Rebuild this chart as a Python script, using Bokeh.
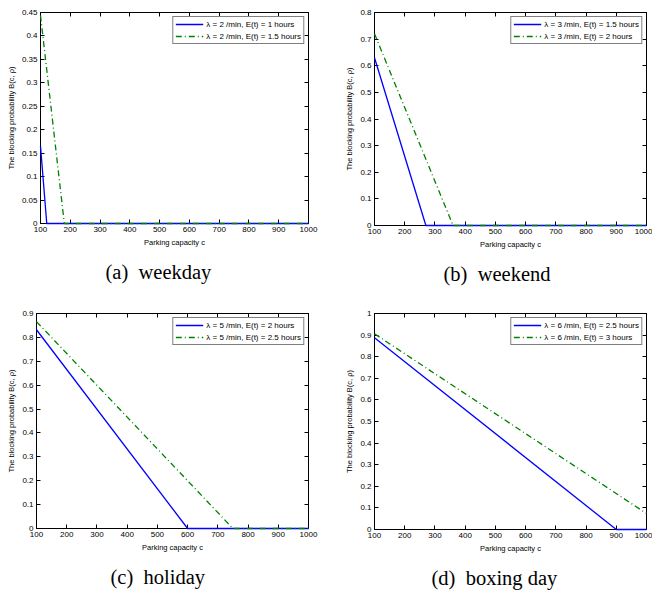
from bokeh.plotting import figure
from bokeh.models import LinearAxis, FixedTicker, Range1d, Title, Legend, LegendItem
from bokeh.layouts import column, row
from bokeh.embed import file_html
from bokeh.resources import INLINE

# ---------------- data ----------------
x_ticks = [100, 200, 300, 400, 500, 600, 700, 800, 900, 1000]

# (a) weekday
a_blue_x = [100, 121, 1000]
a_blue_y = [0.165, 0.0, 0.0]
a_green_x = [100, 180, 1000]
a_green_y = [0.444, 0.0, 0.0]
a_labels = ["λ = 2 /min, E(t) = 1 hours", "λ = 2 /min, E(t) = 1.5 hours"]
a_yticks = [0, 0.05, 0.1, 0.15, 0.2, 0.25, 0.3, 0.35, 0.4, 0.45]
a_ytick_labels = ["0", "0.05", "0.1", "0.15", "0.2", "0.25", "0.3", "0.35", "0.4", "0.45"]

# (b) weekend
b_blue_x = [100, 270, 1000]
b_blue_y = [0.63, 0.0, 0.0]
b_green_x = [100, 360, 1000]
b_green_y = [0.72, 0.0, 0.0]
b_labels = ["λ = 3 /min, E(t) = 1.5 hours", "λ = 3 /min, E(t) = 2 hours"]
b_yticks = [0, 0.1, 0.2, 0.3, 0.4, 0.5, 0.6, 0.7, 0.8]
b_ytick_labels = ["0", "0.1", "0.2", "0.3", "0.4", "0.5", "0.6", "0.7", "0.8"]

# (c) holiday
c_blue_x = [100, 600, 1000]
c_blue_y = [0.832, 0.0, 0.0]
c_green_x = [100, 750, 1000]
c_green_y = [0.866, 0.0, 0.0]
c_labels = ["λ = 5 /min, E(t) = 2 hours", "λ = 5 /min, E(t) = 2.5 hours"]
c_yticks = [0, 0.1, 0.2, 0.3, 0.4, 0.5, 0.6, 0.7, 0.8, 0.9]
c_ytick_labels = ["0", "0.1", "0.2", "0.3", "0.4", "0.5", "0.6", "0.7", "0.8", "0.9"]

# (d) boxing day
d_blue_x = [100, 900, 1000]
d_blue_y = [0.888, 0.0, 0.0]
d_green_x = [100, 1000]
d_green_y = [0.906, 0.074]
d_labels = ["λ = 6 /min, E(t) = 2.5 hours", "λ = 6 /min, E(t) = 3 hours"]
d_yticks = [0, 0.1, 0.2, 0.3, 0.4, 0.5, 0.6, 0.7, 0.8, 0.9, 1.0]
d_ytick_labels = ["0", "0.1", "0.2", "0.3", "0.4", "0.5", "0.6", "0.7", "0.8", "0.9", "1"]

NBSP = "\u00a0"
captions = ["(a)" + NBSP * 2 + "weekday", "(b)" + NBSP * 2 + "weekend",
            "(c)" + NBSP * 2 + "holiday", "(d)" + NBSP * 2 + "boxing day"]
x_label = "Parking capacity c"
y_label = "The blocking probability B(c, ρ)"

SANS = "Liberation Sans"
SERIF = "Liberation Serif"
BLUE = "#0000ff"
GREEN = "#008000"


def style_axis(ax, show_labels=True):
    ax.axis_line_color = "black"
    ax.axis_line_width = 1
    ax.major_tick_in = 4
    ax.major_tick_out = 0
    ax.minor_tick_line_color = None
    ax.major_tick_line_color = "black"
    ax.major_label_text_font = SANS
    ax.axis_label_text_font = SANS
    ax.axis_label_text_font_style = "normal"
    ax.axis_label_text_font_size = "7.5px"
    ax.axis_label_text_color = "black"
    if show_labels:
        ax.major_label_text_color = "black"
        ax.major_label_text_font_size = "8px"
        ax.major_label_standoff = 3
        ax.axis_label_standoff = 3
    else:
        ax.major_label_text_color = None
        ax.major_label_text_font_size = "1px"
        ax.major_label_standoff = 0


def make_panel(bx, by, gx, gy, labels, yticks, ytick_labels, ymax, caption, cap_offset,
               left, fw, right, top, fh, bottom):
    p = figure(frame_width=fw, frame_height=fh,
               min_border_left=left, min_border_right=right,
               min_border_top=top, min_border_bottom=bottom,
               x_range=Range1d(100, 1000), y_range=Range1d(0, ymax),
               output_backend="svg", toolbar_location=None,
               background_fill_color="white", border_fill_color="white")
    p.grid.visible = False
    p.outline_line_color = "black"
    p.outline_line_width = 1

    p.xaxis.ticker = FixedTicker(ticks=x_ticks)
    p.yaxis.ticker = FixedTicker(ticks=yticks)
    p.yaxis.major_label_overrides = {t: s for t, s in zip(yticks, ytick_labels)}
    p.xaxis.axis_label = x_label
    p.yaxis.axis_label = y_label
    style_axis(p.xaxis[0])
    style_axis(p.yaxis[0])

    top_ax = LinearAxis(ticker=FixedTicker(ticks=x_ticks))
    right_ax = LinearAxis(ticker=FixedTicker(ticks=yticks))
    style_axis(top_ax, show_labels=False)
    style_axis(right_ax, show_labels=False)
    p.add_layout(top_ax, "above")
    p.add_layout(right_ax, "right")

    r1 = p.line(bx, by, line_color=BLUE, line_width=1.3, level="overlay")
    r2 = p.line(gx, gy, line_color=GREEN, line_width=1.3, line_dash="6 3 1 3",
                level="overlay")

    leg = Legend(items=[LegendItem(label=labels[0], renderers=[r1]),
                        LegendItem(label=labels[1], renderers=[r2])],
                 location="top_right")
    leg.border_line_color = "black"
    leg.border_line_width = 1
    leg.background_fill_color = "white"
    leg.background_fill_alpha = 1
    leg.label_text_font = SANS
    leg.label_text_font_size = "8px"
    leg.label_text_color = "black"
    leg.glyph_width = 28
    leg.glyph_height = 10
    leg.label_height = 10
    leg.label_standoff = 3
    leg.padding = 2
    leg.spacing = 2
    leg.margin = 4
    p.add_layout(leg)

    cap = Title(text=caption, align="left", offset=cap_offset, text_font=SERIF,
                text_font_size="20.5px", text_font_style="normal",
                text_color="black", standoff=18)
    p.add_layout(cap, "below")
    return p


pa = make_panel(a_blue_x, a_blue_y, a_green_x, a_green_y, a_labels,
                a_yticks, a_ytick_labels, 0.45, captions[0], 65,
                40, 268, 22, 12, 211, 72)
pb = make_panel(b_blue_x, b_blue_y, b_green_x, b_green_y, b_labels,
                b_yticks, b_ytick_labels, 0.8, captions[1], 69,
                44, 272, 6, 10, 213, 72)
pc = make_panel(c_blue_x, c_blue_y, c_green_x, c_green_y, c_labels,
                c_yticks, c_ytick_labels, 0.9, captions[2], 74,
                36, 272, 22, 18, 215, 62)
pd = make_panel(d_blue_x, d_blue_y, d_green_x, d_green_y, d_labels,
                d_yticks, d_ytick_labels, 1.0, captions[3], 57,
                44, 272, 6, 17, 216, 62)

layout = column(row(pa, pb, spacing=0), row(pc, pd, spacing=0), spacing=0)

open("out.html", "w").write(file_html(layout, INLINE))
